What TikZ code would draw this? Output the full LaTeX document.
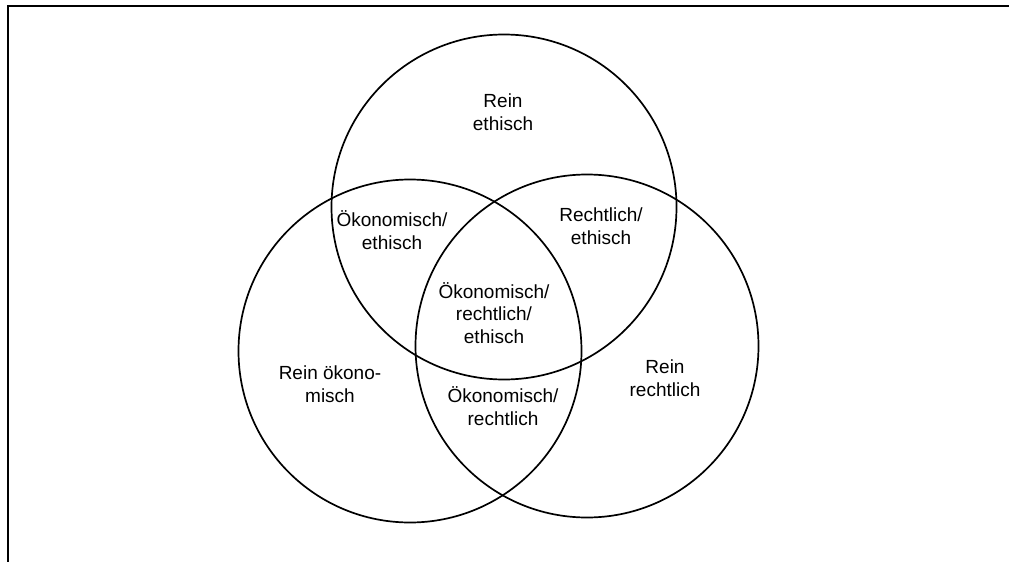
\documentclass[tikz,border=0pt]{standalone}
\usepackage{fontspec}
\setmainfont{Liberation Sans}
\begin{document}
\begin{tikzpicture}[x=1pt,y=-1pt,
  ring/.style={draw=black,line width=1.7pt},
  lab/.style={align=center,font=\fontsize{19}{22.5}\selectfont,inner sep=0pt},
  frame/.style={line width=2.6pt}]
\useasboundingbox (0,0) rectangle (1009,562);
\coordinate (tl) at (8,6);
\coordinate (tr) at (1009,6);
\coordinate (bl) at (8,562);
\draw[frame] (tr) -- (tl) -- (bl);
\node[circle,ring,minimum size=345pt,inner sep=0pt] (top) at (504,207) {};
\node[circle,ring,minimum size=343pt,inner sep=0pt] (left) at (410,351) {};
\node[circle,ring,minimum size=343pt,inner sep=0pt] (right) at (587,346) {};
\node[lab] (re) at (503,112) {Rein\\ethisch};
\node[lab] (oe) at (392,230) {Ökonomisch/\\ethisch};
\node[lab] (rce) at (601,226) {Rechtlich/\\ethisch};
\node[lab] (ore) at (494,313) {Ökonomisch/\\rechtlich/\\ethisch};
\node[lab] (ro) at (330,384) {Rein ökono-\\misch};
\node[lab] (or) at (503,406) {Ökonomisch/\\rechtlich};
\node[lab] (rr) at (665,378) {Rein\\rechtlich};
\end{tikzpicture}
\end{document}
